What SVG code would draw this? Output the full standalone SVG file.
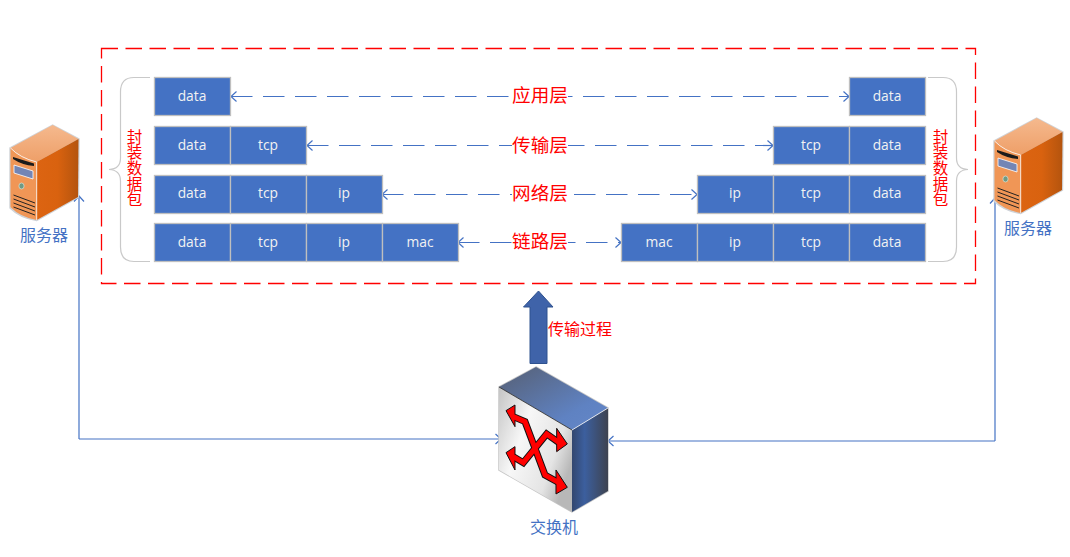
<svg xmlns="http://www.w3.org/2000/svg" width="1070" height="557" viewBox="0 0 1070 557">
<style>
text{font-family:"Noto Sans CJK SC","Noto Sans",sans-serif}
.cell{fill:#4472c4;stroke:#bfbfbf;stroke-width:1.3}
.ct{fill:#f2f2f2;font-family:"Open Sans","Noto Sans",sans-serif;font-size:13.8px;text-anchor:middle}
.lay{fill:#f00;font-size:18.6px;text-anchor:middle}
.gap{fill:#fff}
.red{fill:#f00;font-size:16px}
.vert{fill:#f00;font-size:15.5px;writing-mode:vertical-rl;letter-spacing:.2px}
.blue{fill:#4472c4;font-size:16px;text-anchor:middle}
.dash{fill:none;stroke:#4472c4;stroke-width:1.2;stroke-dasharray:21.5 10.5;marker-start:url(#a);marker-end:url(#a)}
.link{fill:none;stroke:#4472c4;stroke-width:1.2;marker-end:url(#a)}
.brace{fill:none;stroke:#c9c9c9;stroke-width:1.2}
</style>
<defs>
<marker id="a" viewBox="0 0 12 12" refX="10.5" refY="6" markerWidth="12" markerHeight="12" markerUnits="userSpaceOnUse" orient="auto-start-reverse"><path d="M5 1 L10.5 6 L5 11" fill="none" stroke="#4472c4" stroke-width="1.2"/></marker>
<linearGradient id="st" x1="0" y1="0" x2="0" y2="1"><stop offset="0" stop-color="#f5b98e"/><stop offset="1" stop-color="#ee9f68"/></linearGradient>
<linearGradient id="ss" x1="0" y1="0" x2="1" y2="0"><stop offset="0" stop-color="#dc6412"/><stop offset=".5" stop-color="#d9620f"/><stop offset="1" stop-color="#b4540e"/></linearGradient>
<linearGradient id="wt" x1="0" y1="0" x2="1" y2="1"><stop offset="0" stop-color="#565f73"/><stop offset=".7" stop-color="#5f82c2"/><stop offset="1" stop-color="#6487c8"/></linearGradient>
<linearGradient id="wf" x1="0" y1="0" x2="1" y2="0.6"><stop offset="0" stop-color="#c4c4c4"/><stop offset=".4" stop-color="#f7f7f7"/><stop offset=".8" stop-color="#e4e4e4"/><stop offset="1" stop-color="#b8b8b8"/></linearGradient>
<linearGradient id="ws" x1="0" y1="0" x2="1" y2="0"><stop offset="0" stop-color="#33476f"/><stop offset=".35" stop-color="#3c5f9e"/><stop offset="1" stop-color="#3e4350"/></linearGradient>
<g id="srv">
<path d="M52.7 125 L79 139 L78.500 197 L36.700 220.500 Q20 218 10 208 L10 148 Z" fill="#cfcfcf" stroke="#cfd3d8" stroke-width="1.400"/>
<path d="M52.700 125 L78.500 139 L36.700 162 Q20 158 10.500 148 Z" fill="url(#st)"/>
<path d="M10.500 148 Q20 158 36.700 162 L36.700 220 Q20 217 10.500 207 Z" fill="#f09656"/>
<path d="M36.700 162 L78.500 139 L78 197 L36.700 220 Z" fill="url(#ss)"/>
<path d="M10.500 148 Q20 158 36.700 162 L36.700 220" fill="none" stroke="#fff" stroke-width=".8"/>
<path d="M13 159 Q22 165 34 166 L34 163.500 L13 157 Z" fill="#1b1b1b"/>
<path d="M14 165 L33 171 L33 179 L14 173 Z" fill="#7385b5" stroke="#fff" stroke-width=".8"/>
<ellipse cx="21.500" cy="186" rx="2.600" ry="3" fill="#6f9a84" stroke="#d8e4da" stroke-width=".7"/>
<path d="M13.500 195 L35 203 M13.500 199 L35 207 M13.500 203 L35 211 M13.500 207 L35 215" fill="none" stroke="#222" stroke-width="1"/>
</g>
</defs>
<rect width="1070" height="557" fill="#fff"/>

<rect x="101.500" y="48.500" width="874" height="235" fill="none" stroke="#f00" stroke-width="1.300" stroke-dasharray="16.500 7.500"/>

<g id="connectors">
<path class="link" d="M79 439 L79 196"/>
<path class="link" d="M79 439 L501 439"/>
<path class="link" d="M995 441 L995 198"/>
<path class="link" d="M995 441 L608 441"/>
<path class="dash" d="M231 96.500 L849 96.500"/>
<path class="dash" d="M307 145.500 L773 145.500"/>
<path class="dash" d="M382 194.500 L697 194.500"/>
<path class="dash" d="M458 242.500 L621 242.500"/>
</g>

<g id="layer-app"><rect class="gap" x="512" y="84" width="56" height="24"/><text class="lay" x="540" y="102">应用层</text></g>
<g id="layer-trans"><rect class="gap" x="512" y="133" width="56" height="24"/><text class="lay" x="540" y="151.500">传输层</text></g>
<g id="layer-net"><rect class="gap" x="512" y="182" width="56" height="24"/><text class="lay" x="540" y="199.500">网络层</text></g>
<g id="layer-link"><rect class="gap" x="512" y="230" width="56" height="24"/><text class="lay" x="540" y="248">链路层</text></g>

<g id="brace-left"><path class="brace" d="M150 77.500 L134 77.500 Q120.500 77.500 120.500 92 L120.500 158 Q120.500 169 109 169.500 Q120.500 170 120.500 181 L120.500 247 Q120.500 261.500 134 261.500 L150 261.500"/>
<text class="vert" x="134.500" y="129">封装数据包</text></g>
<g id="brace-right"><path class="brace" d="M928 77.500 L943 77.500 Q956.500 77.500 956.500 92 L956.500 158 Q956.500 169 968 169.500 Q956.500 170 956.500 181 L956.500 247 Q956.500 261.500 943 261.500 L928 261.500"/>
<text class="vert" x="940.500" y="129">封装数据包</text></g>

<g id="left-row-1"><rect class="cell" x="154.500" y="77.500" width="76" height="38"/><text class="ct" x="192" y="101">data</text></g>
<g id="left-row-2"><rect class="cell" x="154.500" y="126.500" width="76" height="38"/><rect class="cell" x="230.500" y="126.500" width="76" height="38"/><text class="ct" x="192" y="150">data</text><text class="ct" x="268" y="150">tcp</text></g>
<g id="left-row-3"><rect class="cell" x="154.500" y="175.500" width="76" height="38"/><rect class="cell" x="230.500" y="175.500" width="76" height="38"/><rect class="cell" x="306.500" y="175.500" width="76" height="38"/><text class="ct" x="192" y="198">data</text><text class="ct" x="268" y="198">tcp</text><text class="ct" x="344" y="198">ip</text></g>
<g id="left-row-4"><rect class="cell" x="154.500" y="223.500" width="76" height="38"/><rect class="cell" x="230.500" y="223.500" width="76" height="38"/><rect class="cell" x="306.500" y="223.500" width="76" height="38"/><rect class="cell" x="382.500" y="223.500" width="76" height="38"/><text class="ct" x="192" y="247">data</text><text class="ct" x="268" y="247">tcp</text><text class="ct" x="344" y="247">ip</text><text class="ct" x="420" y="247">mac</text></g>

<g id="right-row-1"><rect class="cell" x="849.500" y="77.500" width="76" height="38"/><text class="ct" x="887" y="101">data</text></g>
<g id="right-row-2"><rect class="cell" x="773.500" y="126.500" width="76" height="38"/><rect class="cell" x="849.500" y="126.500" width="76" height="38"/><text class="ct" x="811" y="150">tcp</text><text class="ct" x="887" y="150">data</text></g>
<g id="right-row-3"><rect class="cell" x="697.500" y="175.500" width="76" height="38"/><rect class="cell" x="773.500" y="175.500" width="76" height="38"/><rect class="cell" x="849.500" y="175.500" width="76" height="38"/><text class="ct" x="735" y="198">ip</text><text class="ct" x="811" y="198">tcp</text><text class="ct" x="887" y="198">data</text></g>
<g id="right-row-4"><rect class="cell" x="621.500" y="223.500" width="76" height="38"/><rect class="cell" x="697.500" y="223.500" width="76" height="38"/><rect class="cell" x="773.500" y="223.500" width="76" height="38"/><rect class="cell" x="849.500" y="223.500" width="76" height="38"/><text class="ct" x="659" y="247">mac</text><text class="ct" x="735" y="247">ip</text><text class="ct" x="811" y="247">tcp</text><text class="ct" x="887" y="247">data</text></g>

<g id="server-left"><use href="#srv"/><text class="blue" x="44" y="241">服务器</text></g>
<g id="server-right"><use href="#srv" transform="translate(984 -7)"/><text class="blue" x="1028" y="234">服务器</text></g>

<g id="transfer"><path d="M538.500 291 L553 307 L547 307 L547 363.500 L530 363.500 L530 307 L523.500 307 Z" fill="#3f63a9" stroke="#2f528f" stroke-width="1"/>
<text class="red" x="548" y="335">传输过程</text></g>

<g id="switch">
<path d="M536 367 L608 408 L608 491 L572 512 L499 470 L499 387 Z" fill="#ccc" stroke="#c6c6c6" stroke-width="1.500"/>
<path d="M536 367 L608 408 L572 430 L499 387 Z" fill="url(#wt)"/>
<path d="M499 387 L572 430 L572 512 L499 470 Z" fill="url(#wf)"/>
<path d="M572 430 L608 408 L608 491 L572 512 Z" fill="url(#ws)"/>
<path d="M572 430 L608 408" stroke="#fff" stroke-width=".8"/>
<path d="M499 387 L572 430" stroke="#222" stroke-width=".8"/>
<g transform="translate(480 280) scale(.3333)" stroke-linejoin="miter">
<path d="M100 410 L135 425 L195 585 L240 610 M240 490 L200 462 L130 548 L100 530" fill="none" stroke="#111" stroke-width="21"/>
<path d="M105 375 L78 392 L105 440 Z M230 445 L262 492 L230 515 Z M105 500 L78 518 L105 570 Z M228 570 L262 622 L228 642 Z" fill="#f00" stroke="#111" stroke-width="3"/>
<path d="M100 410 L135 425 L195 585 L240 610 M240 490 L200 462 L130 548 L100 530" fill="none" stroke="#f00" stroke-width="15"/>
</g>
<text class="blue" x="554" y="533">交换机</text>
</g>
</svg>
